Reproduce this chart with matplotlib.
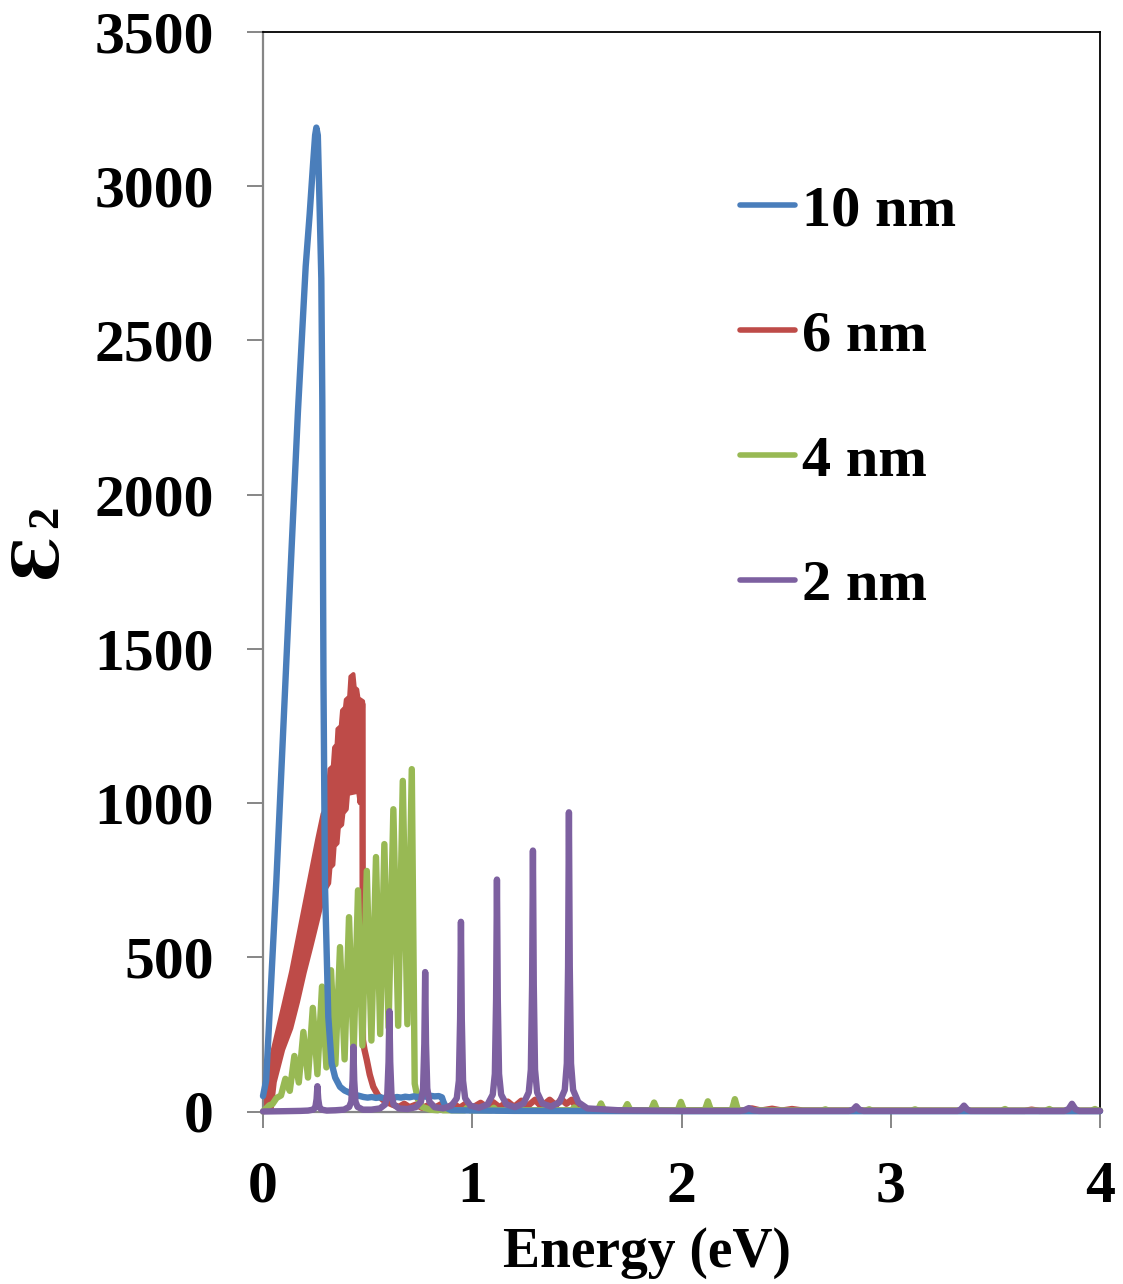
import matplotlib
matplotlib.use("Agg")
import matplotlib.pyplot as plt
from matplotlib.lines import Line2D

# ---------------- data ----------------
# 10 nm
blue_x = [0.0, 0.015, 0.064, 0.113, 0.167, 0.204, 0.223, 0.239, 0.249, 0.255, 0.262,
          0.271, 0.2787, 0.2835, 0.2865, 0.289, 0.296, 0.312, 0.328, 0.345, 0.368,
          0.39, 0.416, 0.44, 0.464, 0.48, 0.50, 0.52, 0.54, 0.56, 0.58, 0.60, 0.62,
          0.64, 0.66, 0.68, 0.70, 0.72, 0.74, 0.76, 0.78, 0.80, 0.82, 0.84, 0.855,
          0.862, 0.875, 0.90, 1.2, 2.0, 3.0, 4.0]
blue_y = [50, 100, 751, 1480, 2270, 2740, 2910, 3070, 3165, 3190, 3165,
          2920, 2700, 2300, 1800, 1400, 740, 307, 156, 110, 80,
          68, 60, 54, 50, 47, 45, 47, 44, 46, 43, 46, 44,
          47, 45, 48, 46, 49, 47, 50, 48, 51, 49, 50, 46,
          32, 12, 4, 2, 1, 1, 1]

# 6 nm : oscillating band (upper / lower envelope, stepped) + tail
red_hi_x = [0.0, 0.016, 0.056, 0.096, 0.135, 0.167, 0.199, 0.231, 0.26, 0.285,
            0.296, 0.302, 0.312, 0.318, 0.334, 0.340, 0.352, 0.356, 0.372, 0.378,
            0.392, 0.396, 0.412, 0.418, 0.432, 0.438, 0.450, 0.456, 0.478]
red_hi_y = [15, 110, 225, 340, 455, 565, 675, 785, 885, 965,
            978, 1040, 1050, 1110, 1120, 1180, 1190, 1240, 1250, 1300,
            1310, 1335, 1345, 1410, 1418, 1375, 1368, 1340, 1330]
red_lo_x = [0.0, 0.04, 0.056, 0.096, 0.135, 0.167, 0.199, 0.231, 0.26, 0.29,
            0.30, 0.316, 0.322, 0.336, 0.342, 0.356, 0.362, 0.378, 0.384, 0.40,
            0.406, 0.455, 0.462, 0.470, 0.478]
red_lo_y = [0, 0, 95, 200, 270, 355, 450, 535, 615, 700,
            722, 740, 790, 800, 860, 870, 920, 930, 967, 980,
            1030, 1037, 1000, 1280, 1310]
red_x = [0.4755, 0.476, 0.4775, 0.485, 0.496, 0.51, 0.527, 0.55, 0.575, 0.60,
         0.62, 0.65, 0.675, 0.70, 0.73, 0.76, 0.79, 0.82, 0.855, 0.88, 0.91,
         0.94, 0.975, 1.0, 1.04, 1.07, 1.10, 1.13, 1.17, 1.20, 1.235, 1.26,
         1.30, 1.33, 1.37, 1.40, 1.425, 1.45, 1.475, 1.50, 1.55, 2.30, 2.336,
         2.38, 2.433, 2.48, 2.528, 2.58, 3.64, 3.673, 3.71, 4.0]
red_y = [1320, 900, 232, 200, 167, 120, 80, 52, 37, 28,
         22, 15, 25, 14, 22, 12, 20, 12, 25, 12, 25,
         12, 28, 12, 28, 14, 30, 14, 32, 15, 35, 15,
         38, 16, 38, 20, 40, 25, 38, 10, 4, 3, 10,
         3, 9, 3, 8, 3, 2, 6, 2, 2]

# 4 nm
green_x = [0.0, 0.03, 0.045, 0.065, 0.086, 0.107, 0.128, 0.150, 0.171, 0.193, 0.215,
           0.238, 0.26, 0.282, 0.303, 0.325, 0.346, 0.368, 0.39, 0.411, 0.433,
           0.454, 0.475, 0.496, 0.518, 0.540, 0.56, 0.580, 0.60, 0.623, 0.646,
           0.668, 0.69, 0.711, 0.725, 0.74, 0.76, 0.80,
           0.835, 0.847, 0.86, 0.963, 0.975, 0.99, 1.09, 1.103, 1.115, 1.22, 1.231,
           1.243, 1.347, 1.359, 1.371, 1.475, 1.487, 1.50,
           1.60, 1.609, 1.615, 1.621, 1.63, 1.726, 1.735, 1.741, 1.747, 1.756,
           1.854, 1.863, 1.869, 1.875, 1.884, 1.982, 1.991, 1.997, 2.003, 2.012,
           2.111, 2.120, 2.126, 2.132, 2.141, 2.240, 2.249, 2.255, 2.261, 2.270,
           2.67, 2.688, 2.70, 2.88, 2.897, 2.91, 3.10, 3.116, 3.13, 3.53, 3.546,
           3.56, 3.74, 3.758, 3.77, 3.96, 3.976, 3.99, 4.0]
green_y = [0, 20, 24, 44, 52, 106, 67, 180, 94, 258, 110,
           336, 121, 405, 143, 458, 153, 533, 169, 630, 185,
           717, 214, 780, 230, 825, 251, 867, 273, 980, 278,
           1072, 283, 1110, 90, 40, 15, 6,
           4, 11, 4, 4, 12, 4, 4, 12, 4, 4, 12,
           4, 4, 12, 4, 4, 13, 4,
           4, 17, 26, 17, 4, 4, 16, 24, 16, 4,
           4, 19, 29, 19, 4, 4, 20, 31, 20, 4,
           4, 21, 33, 21, 4, 4, 25, 40, 25, 4,
           3, 7, 3, 3, 7, 3, 3, 7, 3, 3, 8,
           3, 3, 8, 3, 3, 8, 3, 3]

# 2 nm
purple_x = [0.0, 0.10, 0.18, 0.215, 0.24, 0.25, 0.256, 0.260, 0.264, 0.27, 0.28, 0.305,
            0.346, 0.387, 0.412, 0.422, 0.428, 0.432, 0.436, 0.442, 0.452, 0.477,
            0.518, 0.559, 0.584, 0.594, 0.600, 0.604, 0.608, 0.614, 0.624, 0.649,
            0.690, 0.730, 0.755, 0.765, 0.771, 0.775, 0.779, 0.785, 0.795, 0.820,
            0.861, 0.901, 0.926, 0.936, 0.942, 0.946, 0.950, 0.956, 0.966, 0.991,
            1.032, 1.073, 1.098, 1.108, 1.114, 1.118, 1.122, 1.128, 1.138, 1.163,
            1.204, 1.245, 1.270, 1.280, 1.286, 1.290, 1.294, 1.300, 1.310, 1.335,
            1.376, 1.417, 1.442, 1.452, 1.458, 1.462, 1.466, 1.472, 1.482, 1.507,
            1.55, 1.7, 2.0, 2.28, 2.30, 2.322, 2.344, 2.37, 2.6, 2.80, 2.82, 2.835,
            2.85, 2.87, 3.1, 3.32, 3.335, 3.350, 3.365, 3.38, 3.6, 3.83, 3.85,
            3.866, 3.882, 3.90, 4.0]
purple_y = [0, 1, 2, 3, 6, 13, 40, 82, 40, 13, 6, 3,
            4, 6, 15, 32, 100, 210, 100, 32, 15, 6,
            6, 10, 23, 55, 160, 325, 160, 55, 23, 10,
            8, 14, 32, 75, 220, 452, 220, 75, 32, 14,
            10, 19, 43, 100, 300, 615, 300, 100, 43, 19,
            12, 23, 55, 122, 365, 752, 365, 122, 55, 23,
            14, 26, 62, 136, 410, 846, 410, 136, 62, 26,
            16, 30, 70, 156, 470, 970, 470, 156, 70, 30,
            10, 4, 2, 2, 4, 11, 4, 2, 2, 2, 6, 17,
            6, 2, 2, 2, 7, 19, 7, 2, 2, 2, 8,
            25, 8, 2, 2]

labels = ["10 nm", "6 nm", "4 nm", "2 nm"]
colors = ["#4A7EBB", "#BE4B48", "#98B954", "#7D60A0"]
x_ticks = [0, 1, 2, 3, 4]
y_ticks = [0, 500, 1000, 1500, 2000, 2500, 3000, 3500]

# ---------------- figure ----------------
plt.rcParams['font.family'] = ['Liberation Serif', 'DejaVu Serif']
plt.rcParams['font.weight'] = 'bold'

W, H = 1123, 1284
fig = plt.figure(figsize=(W / 100, H / 100), dpi=100)
ax = fig.add_axes([263 / W, 1 - 1111.5 / H, (1100 - 263) / W, (1111.5 - 32) / H])

lw = 4.6
kw = dict(solid_capstyle='round', solid_joinstyle='round', clip_on=False)

band_x = red_hi_x + red_lo_x[::-1]
band_y = red_hi_y + red_lo_y[::-1]
ax.fill(band_x, band_y, facecolor=colors[1], edgecolor=colors[1], lw=3.0,
        joinstyle='round', zorder=2)
ax.plot(red_x, red_y, color=colors[1], lw=lw, zorder=2, **kw)
ax.plot(green_x, green_y, color=colors[2], lw=lw, zorder=3, **kw)
ax.plot(blue_x, blue_y, color=colors[0], lw=lw, zorder=4, **kw)
ax.plot(purple_x, purple_y, color=colors[3], lw=lw, zorder=5, **kw)

ax.set_xlim(0, 4)
ax.set_ylim(0, 3500)
ax.set_xticks(x_ticks)
ax.set_yticks(y_ticks)
ax.set_xticklabels([str(v) for v in x_ticks])
ax.set_yticklabels([str(v) for v in y_ticks])

for s in ['left', 'bottom']:
    ax.spines[s].set_color('#868686')
    ax.spines[s].set_linewidth(1.6)
for s in ['top', 'right']:
    ax.spines[s].set_color('black')
    ax.spines[s].set_linewidth(1.3)

ax.tick_params(axis='both', direction='out', length=11.5, width=1.4, color='#868686',
               labelsize=43, pad=24)
for lab in ax.get_xticklabels() + ax.get_yticklabels():
    lab.set_fontweight('bold')

ax.set_xlabel('Energy (eV)', fontsize=40, fontweight='bold', labelpad=9)
ax.xaxis.label.set_x((647 - 263) / 837)

# y label: open epsilon with subscript 2
ax.set_ylabel('Ɛ', fontsize=46, fontweight='bold', rotation=90,
              family=['DejaVu Serif'])
ax.yaxis.set_label_coords((39 - 263) / 837, (1111.5 - 555) / 1079.5)
ax.yaxis.label.set_verticalalignment('center')
ax.yaxis.label.set_horizontalalignment('center')
fig.text(46 / W, 1 - 517 / H, '2', fontsize=32, fontweight='bold', rotation=90,
         ha='center', va='center')

handles = [Line2D([], [], color=c, lw=4.0, solid_capstyle='round') for c in colors]
leg = ax.legend(handles, labels, loc='upper left',
                bbox_to_anchor=((740 - 263) / 837, (1111.5 - 185) / 1079.5),
                frameon=False, fontsize=42, handlelength=0.94, handletextpad=0.12,
                labelspacing=1.235, borderpad=0, borderaxespad=0)
for t in leg.get_texts():
    t.set_fontweight('bold')

fig.savefig('out.png', dpi=100)
